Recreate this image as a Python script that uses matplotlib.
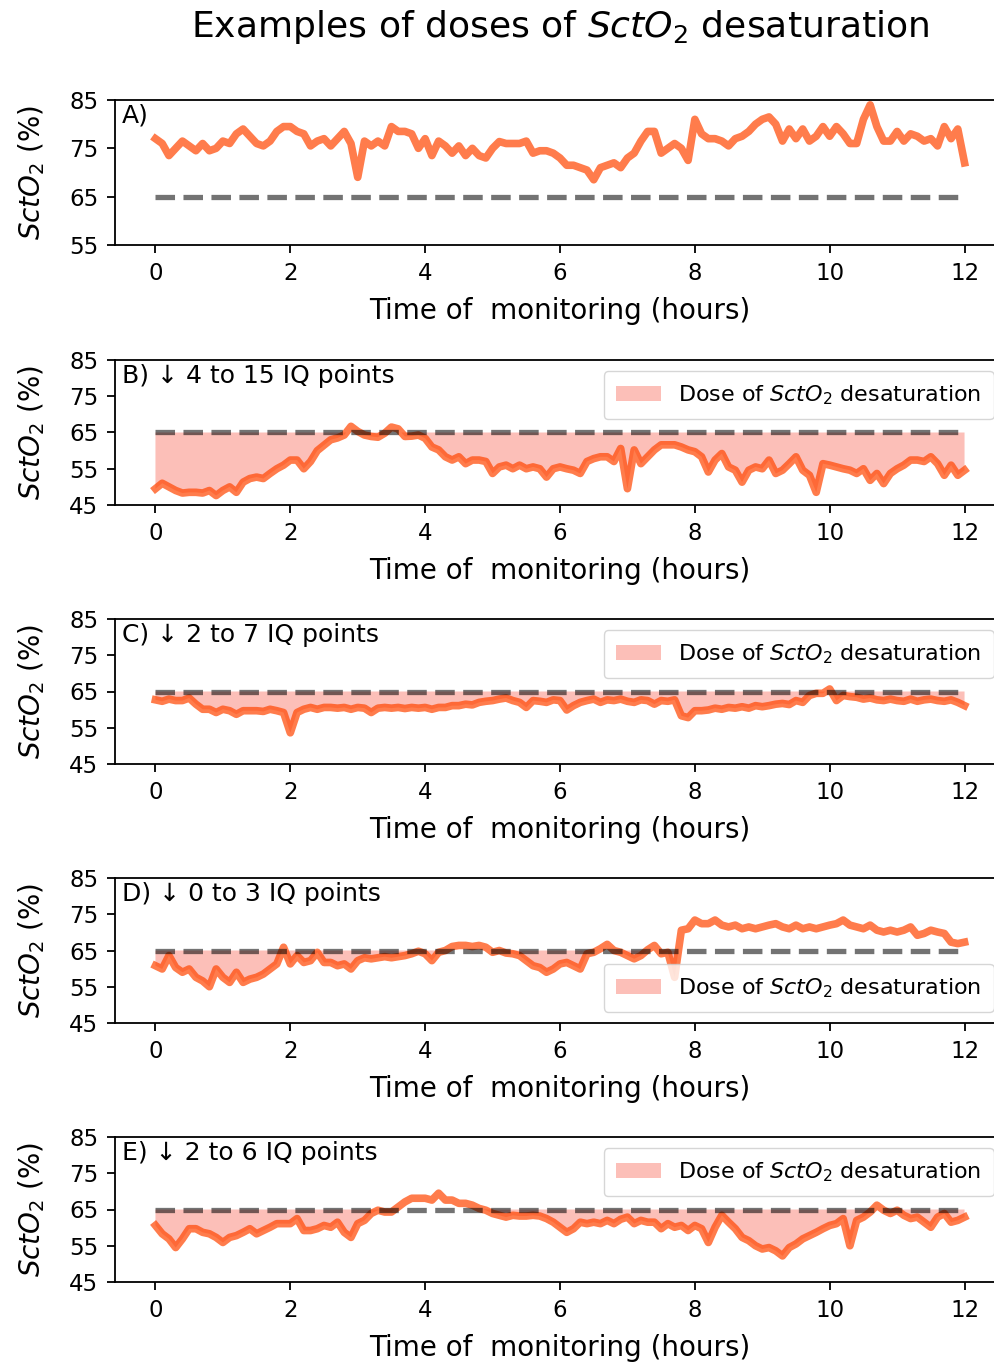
import matplotlib
matplotlib.use("Agg")
import matplotlib.pyplot as plt
import numpy as np

# time axis (hours), one reading every 6 minutes
hours = np.round(np.arange(0, 12.01, 0.1), 1)
threshold = 65

# SctO2 (%)
scto2_a = [77, 76, 73.5, 75, 76.5, 75.5, 74.5, 76, 74.5, 75,
           76.5, 76, 78, 79, 77.5, 76, 75.5, 76.5, 78.5, 79.5,
           79.5, 78.5, 78, 75.5, 76.5, 77, 75.5, 77, 78.5, 76,
           69, 76.5, 75.5, 76.5, 75.5, 79.5, 78.5, 78.5, 78, 75,
           77, 73.5, 76.5, 75.5, 74, 75.5, 73.5, 75, 73.5, 73,
           75, 76.4, 76, 76, 76, 76.5, 74, 74.5, 74.5, 74,
           73, 71.5, 71.5, 71, 70.5, 68.5, 71, 71.5, 72, 71,
           73, 74, 76.5, 78.5, 78.5, 74, 75, 76, 75, 72.5,
           81, 78, 77, 77, 76.5, 75.5, 77, 77.5, 78.5, 80,
           81, 81.5, 80, 76.5, 79, 77, 79, 76.5, 77.5, 79.5,
           77.5, 79.5, 78, 76, 76, 81, 84, 79.5, 76.5, 76.5,
           78.5, 76.5, 78, 77.5, 76.5, 77, 75.5, 79.5, 77, 79,
           72]
scto2_b = [49.5, 51, 50, 49, 48.3, 48.5, 48.5, 48.3, 49, 47.6,
           49, 50, 48.5, 51.3, 52.3, 52.7, 52.3, 53.7, 55, 56,
           57.4, 57.4, 55, 57, 60, 61.5, 63, 63.5, 64.3, 66.7,
           65.3, 64.3, 63.9, 63.7, 64.8, 66.5, 66, 63.9, 64, 64.3,
           63.4, 61, 60.2, 58.3, 57.4, 58.3, 56.4, 57.4, 57.4, 57,
           53.7, 55.5, 56, 55, 56, 55, 55.5, 55, 52.7, 55,
           55.5, 55, 54.6, 53.7, 57, 57.8, 58.3, 58.3, 57, 60.6,
           49.5, 60.2, 56.4, 58.3, 60.2, 61.6, 61.6, 61.6, 61, 60.2,
           59.7, 58.3, 54.1, 57.4, 59.2, 55.5, 54.6, 51.3, 54.6, 55.5,
           55, 57.4, 53.7, 54.6, 56.4, 58.3, 54.6, 53.2, 48.5, 56.4,
           56, 55.5, 55, 54.6, 53.7, 55, 51.8, 53.7, 50.9, 53.7,
           55, 56, 57.4, 57.4, 57, 58.3, 56.4, 53.2, 56, 53.2,
           54.6]
scto2_c = [62.7, 62.3, 62.9, 62.5, 62.5, 63.2, 61.5, 60.1, 60.1, 59.2,
           60.1, 59.7, 58.7, 59.7, 59.7, 59.7, 59.5, 60.1, 59.7, 59.2,
           53.6, 59.2, 60.1, 60.6, 60.1, 60.6, 60.6, 60.4, 60.6, 60.1,
           60.6, 60.4, 59.2, 60.4, 60.6, 60.4, 60.6, 60.3, 60.6, 60.4,
           60.6, 60.1, 60.6, 60.6, 61.1, 61.1, 61.5, 61.3, 62, 62.3,
           62.5, 62.9, 63.2, 62.5, 62, 60.6, 62.5, 62.3, 62, 62.7,
           62.5, 59.9, 61.1, 62, 62.5, 62.9, 62, 62.7, 62.5, 62.9,
           62.3, 62, 62.7, 62.5, 61.5, 62.5, 62.3, 62.7, 58.3, 57.8,
           59.7, 59.7, 59.9, 60.4, 60.1, 60.6, 60.4, 60.8, 60.4, 61.1,
           60.8, 61.1, 61.5, 61.7, 61.4, 62.5, 62, 63.9, 64.5, 64.5,
           65.7, 62.5, 63.9, 63.6, 63.4, 62.9, 63.2, 62.7, 62.5, 62.9,
           62.5, 62.3, 62.9, 62.3, 62.7, 62.9, 62.5, 62.3, 62.7, 62,
           61.1]
scto2_d = [60.8, 59.9, 63.6, 60.3, 59, 59.9, 57.6, 56.6, 55, 59.9,
           57.6, 56.2, 59, 56.2, 57.1, 57.6, 58.5, 59.9, 61.3, 65.9,
           61.3, 63.6, 61.7, 62.2, 64.5, 61.7, 61.7, 60.8, 61.3, 59.9,
           62.2, 63, 62.7, 63, 63.3, 63, 63.3, 63.6, 64.1, 64.8,
           64.1, 62.2, 64.5, 65, 66.1, 66.4, 66.4, 66.1, 66.4, 65.9,
           64.5, 65, 64.3, 64.1, 63.6, 62.2, 60.8, 60.3, 59, 59.9,
           61.3, 61.7, 60.8, 59.9, 64.1, 64.5, 65.5, 66.7, 65, 64.5,
           63.6, 62.7, 63.6, 65.2, 66.4, 64.1, 64.5, 57.6, 70.6, 71,
           73.4, 72.4, 72.4, 73.4, 72, 71.5, 72, 71, 71.5, 71,
           71.5, 72, 72.4, 71.5, 71, 72, 71, 71.5, 71, 71.5,
           72, 72.4, 73.4, 72, 71.5, 71, 72, 70.6, 70.1, 70.6,
           70.1, 70.6, 71.5, 69.2, 69.7, 70.6, 70.1, 69.7, 67.3, 66.9,
           67.3]
scto2_e = [60.6, 58.3, 56.9, 54.5, 56.9, 59.7, 59.7, 58.7, 58.3, 57.3,
           55.9, 57.3, 57.8, 58.7, 59.7, 58.3, 59.2, 60.1, 61.1, 61.1,
           61.1, 62.5, 59.2, 59.2, 59.7, 60.6, 60.1, 61.5, 58.7, 57.3,
           61.1, 62, 63.9, 64.8, 64.3, 64.3, 65.7, 67.1, 68.1, 68.1,
           68.1, 67.6, 69.5, 67.6, 67.6, 66.7, 66.7, 66.2, 65.3, 64.8,
           63.9, 63.4, 62.9, 63.4, 63.2, 63.2, 63.4, 63.2, 62.5, 61.5,
           60.1, 58.7, 59.7, 61.5, 61.1, 61.5, 61.1, 62, 61.1, 62.3,
           62.9, 61.1, 62, 61.5, 61.5, 59.7, 61.1, 60.1, 60.6, 59.2,
           60.6, 59.7, 55.9, 60.1, 63.4, 61.5, 59.7, 57.3, 56.4, 55,
           54.1, 54.5, 53.6, 52.2, 54.5, 55.5, 56.9, 57.8, 58.7, 59.7,
           60.6, 61.1, 62.5, 55, 62, 62.9, 64.3, 66.2, 64.8, 63.9,
           64.8, 63.4, 62.5, 62.9, 61.5, 60.1, 62.9, 63.9, 61.5, 62,
           62.9]

series = [scto2_a, scto2_b, scto2_c, scto2_d, scto2_e]
panel_labels = ["A)", "B) \u2193 4 to 15 IQ points", "C) \u2193 2 to 7 IQ points",
                "D) \u2193 0 to 3 IQ points", "E) \u2193 2 to 6 IQ points"]
y_ticks = [[55, 65, 75, 85], [45, 55, 65, 75, 85], [45, 55, 65, 75, 85],
           [45, 55, 65, 75, 85], [45, 55, 65, 75, 85]]
legend_loc = [None, "upper right", "upper right", "lower right", "upper right"]

fig = plt.figure(figsize=(9.95, 13.63), dpi=100)

W, H = 995, 1363
ax_left, ax_right = 115, 1005
ax_tops = [100, 360, 619, 878, 1137]
ax_h = 145

for i, vals in enumerate(series):
    y = np.array(vals)
    top = ax_tops[i]
    ax = fig.add_axes([ax_left / W, 1 - (top + ax_h) / H,
                       (ax_right - ax_left) / W, ax_h / H])

    if legend_loc[i] is not None:
        ax.fill_between(hours, y, threshold, where=y < threshold, interpolate=True,
                        color="salmon", alpha=0.5, linewidth=0,
                        label="Dose of $SctO_2$ desaturation")
    ax.plot(hours, y, color="orangered", alpha=0.7, linewidth=5.5)
    ax.hlines(threshold, hours[0], hours[-1], colors="k", alpha=0.55,
              linestyles="--", linewidth=3.8)

    ax.set_xlim(-0.6, 12.6)
    ax.set_ylim(y_ticks[i][0], y_ticks[i][-1])
    ax.set_yticks(y_ticks[i])
    ax.set_xticks(range(0, 13, 2))
    ax.tick_params(labelsize=16.5, length=6, width=1.3, pad=6)
    for sp in ax.spines.values():
        sp.set_linewidth(1.3)
    ax.set_ylabel("$SctO_2$ (%)", fontsize=20, labelpad=16)
    ax.set_xlabel("Time of  monitoring (hours)", fontsize=20, labelpad=9)
    ax.text(0.008, 0.975, panel_labels[i], transform=ax.transAxes,
            fontsize=18, va="top", ha="left")

    if legend_loc[i] is not None:
        ax.legend(loc=legend_loc[i], fontsize=16, handlelength=2.0,
                  borderpad=0.55)

fig.text(0.5628, 1 - 27 / H, "Examples of doses of $SctO_2$ desaturation",
         fontsize=26, ha="center", va="center")

fig.savefig("out.png", dpi=100)
